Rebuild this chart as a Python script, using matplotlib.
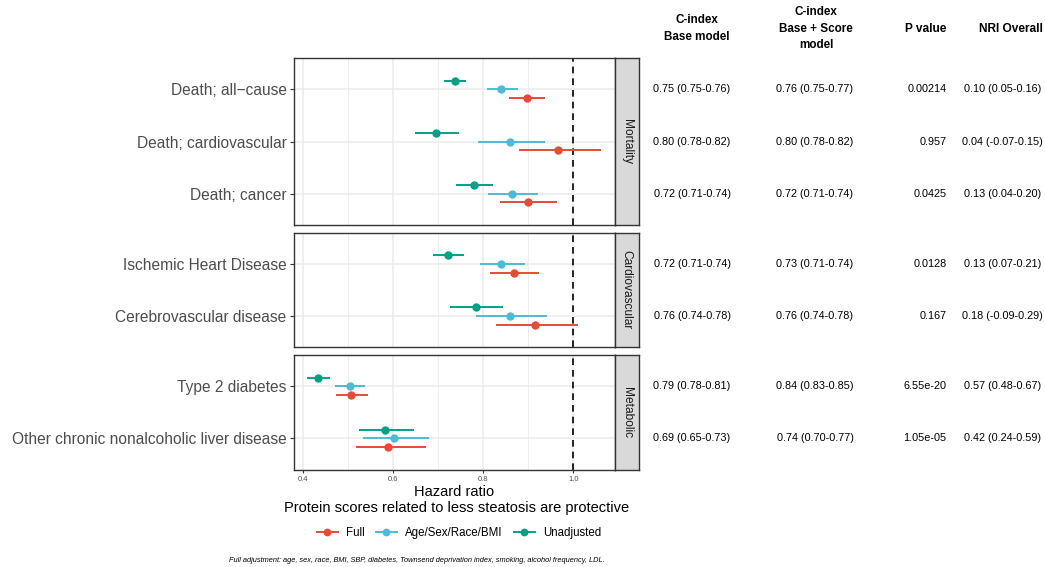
import matplotlib
matplotlib.use("Agg")
import matplotlib.pyplot as plt
from matplotlib.lines import Line2D

plt.rcParams['font.family'] = ['Liberation Sans', 'DejaVu Sans']

# ---------------- data ----------------
groups = ["Mortality", "Cardiovascular", "Metabolic"]
outcomes = {
    "Mortality": ["Death; all\u2212cause", "Death; cardiovascular", "Death; cancer"],
    "Cardiovascular": ["Ischemic Heart Disease", "Cerebrovascular disease"],
    "Metabolic": ["Type 2 diabetes", "Other chronic nonalcoholic liver disease"],
}
models = ["Full", "Age/Sex/Race/BMI", "Unadjusted"]
colors = {"Full": "#E64B35", "Age/Sex/Race/BMI": "#4DBBD5", "Unadjusted": "#00A087"}

# hazard ratios (point, lower, upper) per outcome order
hr_full = [0.897, 0.966, 0.899, 0.869, 0.915, 0.506, 0.589]
lo_full = [0.858, 0.879, 0.838, 0.815, 0.828, 0.472, 0.517]
hi_full = [0.938, 1.062, 0.964, 0.924, 1.010, 0.543, 0.672]

hr_age = [0.840, 0.859, 0.864, 0.840, 0.859, 0.503, 0.602]
lo_age = [0.808, 0.788, 0.810, 0.793, 0.784, 0.470, 0.533]
hi_age = [0.876, 0.936, 0.921, 0.892, 0.942, 0.538, 0.680]

hr_unadj = [0.736, 0.694, 0.779, 0.721, 0.783, 0.433, 0.582]
lo_unadj = [0.713, 0.648, 0.739, 0.687, 0.726, 0.409, 0.524]
hi_unadj = [0.761, 0.745, 0.822, 0.756, 0.844, 0.459, 0.646]

cindex_base = ["0.75 (0.75-0.76)", "0.80 (0.78-0.82)", "0.72 (0.71-0.74)",
               "0.72 (0.71-0.74)", "0.76 (0.74-0.78)", "0.79 (0.78-0.81)",
               "0.69 (0.65-0.73)"]
cindex_score = ["0.76 (0.75-0.77)", "0.80 (0.78-0.82)", "0.72 (0.71-0.74)",
                "0.73 (0.71-0.74)", "0.76 (0.74-0.78)", "0.84 (0.83-0.85)",
                "0.74 (0.70-0.77)"]
p_values = ["0.00214", "0.957", "0.0425", "0.0128", "0.167", "6.55e-20", "1.05e-05"]
nri = ["0.10 (0.05-0.16)", "0.04 (-0.07-0.15)", "0.13 (0.04-0.20)",
       "0.13 (0.07-0.21)", "0.18 (-0.09-0.29)", "0.57 (0.48-0.67)",
       "0.42 (0.24-0.59)"]

x_ticks = [0.4, 0.6, 0.8, 1.0]
x_minor = [0.5, 0.7, 0.9]

series = {
    "Full": (hr_full, lo_full, hi_full),
    "Age/Sex/Race/BMI": (hr_age, lo_age, hi_age),
    "Unadjusted": (hr_unadj, lo_unadj, hi_unadj),
}
dodge = {"Full": -1 / 6, "Age/Sex/Race/BMI": 0.0, "Unadjusted": 1 / 6}

# ---------------- layout ----------------
W, H = 1045, 567
fig = plt.figure(figsize=(W / 100, H / 100), dpi=100)

left_px, right_px = 293.5, 615.0
strip_w = 23.5
unit = 52.2
gap = 7.5
top_px = 58.0

def fx(px):
    return px / W

def fy(py):
    return 1 - py / H

grid_c = "#EBEBEB"
text_c = "#4D4D4D"

idx = 0
cur_top = top_px
row_centers = []
for g in groups:
    cats = outcomes[g]
    n = len(cats)
    h = (n + 0.2) * unit
    ax = fig.add_axes([fx(left_px), fy(cur_top + h), fx(right_px - left_px), h / H])
    ax.set_xlim(0.378, 1.0927)
    ax.set_ylim(0.4, n + 0.6)
    for xv in x_minor:
        ax.axvline(xv, color=grid_c, lw=0.6, zorder=0)
    for xv in x_ticks:
        ax.axvline(xv, color=grid_c, lw=1.1, zorder=0)
    ypos = [n - i for i in range(n)]
    for y in ypos:
        ax.axhline(y, color=grid_c, lw=1.1, zorder=0)
    ax.axvline(1.0, color="black", lw=1.2, ls=(0, (4, 3)), zorder=1)
    for m in models:
        hr, lo, hi = series[m]
        for k, y in enumerate(ypos):
            j = idx + k
            yy = y + dodge[m]
            ax.plot([lo[j], hi[j]], [yy, yy], color=colors[m], lw=1.4, zorder=2,
                    solid_capstyle='butt')
            ax.plot([hr[j]], [yy], 'o', color=colors[m], ms=5.0, zorder=3)
    ax.set_yticks(ypos)
    ax.set_yticklabels(cats, fontsize=11.2, color=text_c)
    ax.tick_params(axis='y', length=3, width=0.8, color="#333333", pad=2)
    if g == groups[-1]:
        ax.set_xticks(x_ticks)
        ax.set_xticklabels([f"{v:.1f}" for v in x_ticks], fontsize=5.5, color=text_c)
        ax.tick_params(axis='x', length=2.5, width=0.8, color="#333333", pad=2)
    else:
        ax.set_xticks([])
    for s in ax.spines.values():
        s.set_color("#333333")
        s.set_linewidth(1.0)
    # strip
    sax = fig.add_axes([fx(right_px), fy(cur_top + h), fx(strip_w), h / H])
    sax.set_xticks([]); sax.set_yticks([])
    sax.set_facecolor("#D9D9D9")
    for s in sax.spines.values():
        s.set_color("#333333")
        s.set_linewidth(1.0)
    sax.text(0.5, 0.5, g, rotation=-90, ha='center', va='center', fontsize=8.6,
             color="#1A1A1A", transform=sax.transAxes)
    for k in range(n):
        row_centers.append(cur_top + (n + 0.6 - ypos[k]) * unit)
    idx += n
    cur_top += h + gap

# ---------------- table ----------------
hdr_y = 28.5
fig.text(fx(697), fy(hdr_y), "C-index\nBase model", ha='center', va='center',
         fontsize=8.4, fontweight='bold', linespacing=1.5)
fig.text(fx(816), fy(hdr_y), "C-index\nBase + Score\nmodel", ha='center', va='center',
         fontsize=8.4, fontweight='bold', linespacing=1.5)
fig.text(fx(946.5), fy(hdr_y), "P value", ha='right', va='center',
         fontsize=8.6, fontweight='bold')
fig.text(fx(1043), fy(hdr_y), "NRI Overall", ha='right', va='center',
         fontsize=8.6, fontweight='bold')
for r, yc in enumerate(row_centers):
    fig.text(fx(692), fy(yc), cindex_base[r], ha='center', va='center', fontsize=7.8)
    fig.text(fx(815), fy(yc), cindex_score[r], ha='center', va='center', fontsize=7.8)
    fig.text(fx(946.5), fy(yc), p_values[r], ha='right', va='center', fontsize=7.8)
    fig.text(fx(1002.5), fy(yc), nri[r], ha='center', va='center', fontsize=7.8)

# ---------------- axis title & legend ----------------
cx = (left_px + right_px) / 2
fig.text(fx(cx), fy(492.5), "Hazard ratio", ha='center', va='center', fontsize=10.5)
fig.text(fx(457), fy(508), "Protein scores related to less steatosis are protective",
         ha='center', va='center', fontsize=10.5)

handles = [Line2D([0], [0], color=colors[m], lw=1.4, marker='o', ms=4.6) for m in models]
fig.legend(handles, models, loc='center', bbox_to_anchor=(fx(459), fy(533)), ncol=3,
           frameon=False, fontsize=8.3, handlelength=1.8, columnspacing=1.0,
           handletextpad=0.7)

fig.text(fx(416.5), fy(561), "Full adjustment: age, sex, race, BMI, SBP, diabetes, Townsend deprivation index, smoking, alcohol frequency, LDL.",
         ha='center', va='center', fontsize=5.35, style='italic')

fig.savefig("out.png", dpi=100)
